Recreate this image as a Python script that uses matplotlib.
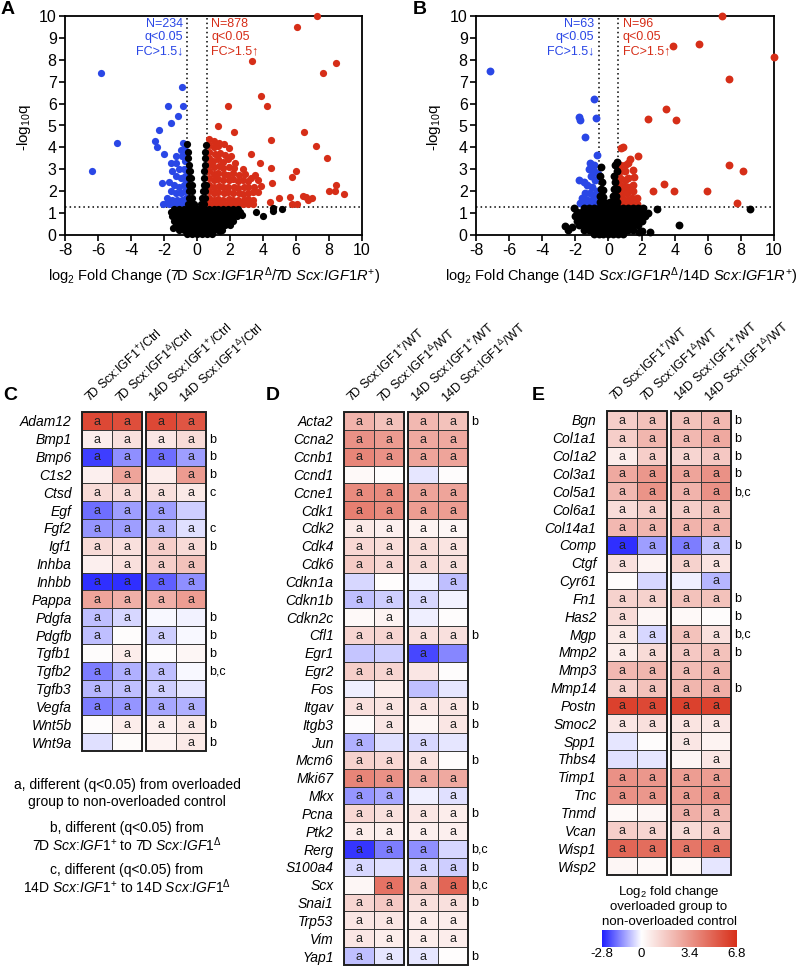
import numpy as np
import matplotlib
matplotlib.use("Agg")
import matplotlib.pyplot as plt
from matplotlib.colors import LinearSegmentedColormap
from matplotlib.patches import Rectangle

plt.rcParams['font.family'] = ['Liberation Sans', 'DejaVu Sans']
plt.rcParams['mathtext.fontset'] = 'custom'
plt.rcParams['mathtext.rm'] = 'Liberation Sans'
plt.rcParams['mathtext.it'] = 'Liberation Sans:italic'
plt.rcParams['mathtext.bf'] = 'Liberation Sans:bold'
plt.rcParams['axes.unicode_minus'] = False

# ---- volcano data (log2 FC, -log10 q) ----
a_blue = [(-5.84, 7.38), (-6.38, 2.94), (-4.83, 4.19), (-0.93, 6.77), (-0.83, 5.89),
          (-1.74, 5.89), (-1.13, 5.43), (-1.58, 5.1), (-2.3, 4.79), (-2.53, 4.29),
          (-2.44, 4.03), (-2.0, 3.7), (-2.1, 2.36), (-2.08, 1.42), (-1.84, 1.45),
          (-0.85, 4.2), (-0.75, 4.1), (-0.7, 3.9), (-1.6, 3.3), (-1.25, 3.6), (-1.3, 3.3),
          (-1.0, 3.9), (-0.9, 3.6), (-0.75, 3.4), (-1.1, 3.0), (-0.8, 3.0), (-1.5, 2.9),
          (-1.3, 2.7), (-1.0, 2.6), (-0.7, 2.7), (-1.7, 2.4), (-1.4, 2.3), (-1.1, 2.2),
          (-0.8, 2.3), (-1.6, 2.0), (-1.3, 1.9), (-1.0, 1.9), (-0.7, 2.0), (-1.8, 1.7),
          (-1.5, 1.6), (-1.2, 1.6), (-0.9, 1.6), (-0.65, 1.7), (-1.7, 1.4), (-1.4, 1.4),
          (-1.1, 1.4), (-0.8, 1.4), (-0.65, 2.4), (-0.65, 3.0), (-0.65, 3.6)]

a_red = [(7.25, 10.0), (6.04, 9.51), (3.35, 7.95), (8.4, 7.87), (7.62, 7.41), (3.88, 6.36),
         (4.22, 5.89), (1.9, 5.89), (1.29, 4.98), (2.24, 4.72), (6.48, 4.72), (4.48, 4.34),
         (7.21, 4.08), (3.27, 3.68), (3.84, 3.27), (4.46, 3.04), (7.86, 3.5), (6.0, 2.94),
         (5.74, 2.66), (4.53, 2.36), (8.4, 2.28), (8.02, 2.0), (8.36, 2.0), (8.91, 1.86),
         (6.45, 1.8), (6.6, 1.75), (6.75, 1.6), (6.95, 1.7), (5.64, 1.75), (4.99, 1.67),
         (4.42, 1.52), (5.74, 1.42), (6.04, 1.42), (3.41, 1.42),
         (0.7, 4.4), (1.05, 4.3), (1.35, 4.2),
         (0.7, 4.1), (1.0, 4.0), (1.3, 4.05), (1.65, 4.15), (1.95, 3.95),
         (0.75, 3.8), (1.1, 3.7), (1.4, 3.75), (1.7, 3.65), (2.05, 3.6),
         (0.7, 3.5), (0.95, 3.4), (1.3, 3.45), (1.6, 3.35), (1.9, 3.45), (2.3, 3.3),
         (0.75, 3.2), (1.05, 3.1), (1.35, 3.15), (1.6, 3.05), (1.95, 3.1), (2.25, 3.05), (2.8, 3.0),
         (0.7, 2.9), (1.0, 2.8), (1.3, 2.85), (1.65, 2.8), (1.9, 2.75), (2.2, 2.85), (2.55, 2.75),
         (2.9, 2.8), (3.5, 2.75), (3.3, 2.6),
         (0.75, 2.6), (1.05, 2.5), (1.3, 2.55), (1.6, 2.5), (1.95, 2.5), (2.2, 2.55), (2.5, 2.45),
         (2.8, 2.5), (3.1, 2.45), (3.7, 2.5),
         (0.7, 2.3), (1.0, 2.2), (1.35, 2.25), (1.6, 2.2), (1.9, 2.2), (2.25, 2.2), (2.5, 2.15),
         (2.85, 2.2), (3.1, 2.2), (3.45, 2.2), (3.9, 2.25),
         (0.75, 2.0), (1.0, 1.9), (1.3, 1.95), (1.65, 1.9), (1.9, 1.95), (2.2, 1.9), (2.55, 1.9),
         (2.8, 1.85), (3.1, 1.9), (3.4, 1.95), (3.7, 1.95),
         (0.7, 1.7), (1.05, 1.6), (1.3, 1.65), (1.6, 1.6), (1.95, 1.65), (2.2, 1.6), (2.5, 1.6),
         (2.85, 1.6), (3.1, 1.65), (3.4, 1.6),
         (0.7, 1.4), (1.0, 1.4), (1.3, 1.4), (1.6, 1.4), (1.9, 1.4), (2.2, 1.4), (2.5, 1.4),
         (2.8, 1.4), (3.1, 1.4)]

a_black = [(-0.6, 0.05), (-0.3, 0.05), (0.0, 0.05), (0.3, 0.05), (0.6, 0.05), (0.9, 0.05),
           (-1.1, 0.25), (-0.8, 0.25), (-0.5, 0.25), (-0.2, 0.25), (0.1, 0.25), (0.4, 0.25),
           (0.7, 0.25), (1.0, 0.25), (1.3, 0.25), (1.5, 0.25),
           (-1.3, 0.45), (-1.0, 0.45), (-0.7, 0.45), (-0.4, 0.45), (-0.1, 0.45), (0.2, 0.45),
           (0.5, 0.45), (0.8, 0.45), (1.1, 0.45), (1.4, 0.45), (1.7, 0.45), (2.0, 0.45),
           (-1.4, 0.65), (-1.1, 0.65), (-0.8, 0.65), (-0.5, 0.65), (-0.2, 0.65), (0.1, 0.65),
           (0.4, 0.65), (0.7, 0.65), (1.0, 0.65), (1.3, 0.65), (1.6, 0.65), (1.9, 0.65), (2.2, 0.65),
           (-1.5, 0.85), (-1.2, 0.85), (-0.9, 0.85), (-0.6, 0.85), (-0.3, 0.85), (0.0, 0.85),
           (0.3, 0.85), (0.6, 0.85), (0.9, 0.85), (1.2, 0.85), (1.5, 0.85), (1.8, 0.85),
           (2.1, 0.85), (2.4, 0.85), (2.7, 0.9),
           (-1.6, 1.05), (-1.3, 1.05), (-1.0, 1.05), (-0.7, 1.05), (-0.4, 1.05), (-0.1, 1.05),
           (0.2, 1.05), (0.5, 1.05), (0.8, 1.05), (1.1, 1.05), (1.4, 1.05), (1.7, 1.05),
           (2.0, 1.05), (2.3, 1.05), (2.6, 1.05),
           (-1.4, 1.2), (-1.1, 1.2), (-0.8, 1.2), (-0.5, 1.2), (-0.2, 1.2), (0.1, 1.2), (0.4, 1.2),
           (0.7, 1.2), (1.0, 1.2), (1.3, 1.2), (1.6, 1.2), (1.9, 1.2), (2.2, 1.2), (2.5, 1.2),
           (-1.47, 0.3), (1.39, 0.2), (3.58, 1.03), (3.98, 0.87), (4.63, 1.25), (4.6, 1.1),
           (5.13, 1.17),
           (-0.55, 1.4), (-0.35, 1.4), (-0.2, 1.4), (-0.15, 1.3), (-0.5, 1.7), (-0.3, 1.7),
           (-0.5, 2.0), (-0.3, 2.0), (-0.5, 2.3), (-0.3, 2.3), (-0.5, 2.6), (-0.35, 2.6),
           (-0.5, 2.9), (-0.4, 2.9), (-0.5, 3.2), (-0.55, 3.5), (-0.55, 3.8), (-0.58, 4.15),
           (0.25, 1.4), (0.45, 1.4), (0.3, 1.7), (0.5, 1.7), (0.35, 2.0), (0.5, 2.0),
           (0.4, 2.3), (0.55, 2.3), (0.45, 2.6), (0.45, 2.9), (0.5, 3.2), (0.5, 3.5),
           (0.5, 3.8), (0.52, 4.1)]

b_blue = [(-7.15, 7.5), (-0.85, 6.21), (-1.76, 5.4), (-1.72, 5.25), (-0.75, 5.36),
          (-1.42, 4.46), (-0.71, 3.65), (-1.78, 2.51), (-1.46, 2.4),
          (-1.1, 3.3), (-0.9, 3.2), (-1.2, 3.0), (-0.85, 2.9), (-1.05, 2.7), (-0.8, 2.5),
          (-1.3, 2.3), (-1.0, 2.2), (-0.7, 2.0), (-1.4, 1.9), (-1.1, 1.9), (-0.9, 1.8),
          (-1.6, 1.7), (-1.3, 1.6), (-1.0, 1.6), (-0.7, 1.6), (-1.5, 1.4), (-1.2, 1.4),
          (-0.9, 1.4), (-0.65, 1.4), (-1.7, 1.45), (-0.65, 2.8)]

b_red = [(6.84, 10.0), (3.88, 8.63), (5.49, 8.72), (10.0, 8.13), (7.28, 7.11), (3.48, 5.75),
         (2.41, 5.28), (4.1, 5.26), (7.3, 3.2), (8.1, 2.92), (3.36, 2.31), (2.71, 2.02),
         (3.96, 2.02), (5.93, 2.0), (7.76, 1.48), (1.78, 3.62), (0.86, 4.03), (0.74, 3.96),
         (1.32, 3.45), (1.5, 2.98), (1.56, 2.66),
         (0.7, 3.2), (1.0, 3.2), (1.2, 3.3), (0.7, 2.9), (1.0, 2.9), (0.7, 2.6), (1.0, 2.5),
         (1.2, 2.6), (0.7, 2.3), (0.95, 2.2), (1.2, 2.2), (0.7, 2.0), (0.9, 1.9), (1.15, 1.9),
         (1.5, 2.0), (0.7, 1.7), (0.95, 1.6), (1.2, 1.6), (1.45, 1.7), (1.7, 1.7), (0.7, 1.4),
         (0.95, 1.4), (1.2, 1.4), (1.45, 1.4), (1.75, 1.4), (1.5, 2.3)]

b_black = [(-0.9, 0.05), (-0.6, 0.05), (-0.3, 0.05), (0.0, 0.05), (0.3, 0.05), (0.6, 0.05),
           (0.9, 0.05),
           (-1.5, 0.25), (-1.2, 0.25), (-0.9, 0.25), (-0.6, 0.25), (-0.3, 0.25), (0.0, 0.25),
           (0.3, 0.25), (0.6, 0.25), (0.9, 0.25), (1.2, 0.25), (1.5, 0.25),
           (-1.8, 0.45), (-1.5, 0.45), (-1.2, 0.45), (-0.9, 0.45), (-0.6, 0.45), (-0.3, 0.45),
           (0.0, 0.45), (0.3, 0.45), (0.6, 0.45), (0.9, 0.45), (1.2, 0.45), (1.5, 0.45), (1.8, 0.45),
           (-1.9, 0.65), (-1.6, 0.65), (-1.3, 0.65), (-1.0, 0.65), (-0.7, 0.65), (-0.4, 0.65),
           (-0.1, 0.65), (0.2, 0.65), (0.5, 0.65), (0.8, 0.65), (1.1, 0.65), (1.4, 0.65),
           (1.7, 0.65), (2.0, 0.65),
           (-2.0, 0.85), (-1.7, 0.85), (-1.4, 0.85), (-1.1, 0.85), (-0.8, 0.85), (-0.5, 0.85),
           (-0.2, 0.85), (0.1, 0.85), (0.4, 0.85), (0.7, 0.85), (1.0, 0.85), (1.3, 0.85),
           (1.6, 0.85), (1.9, 0.85), (2.2, 0.85),
           (-1.9, 1.05), (-1.6, 1.05), (-1.3, 1.05), (-1.0, 1.05), (-0.7, 1.05), (-0.4, 1.05),
           (-0.1, 1.05), (0.2, 1.05), (0.5, 1.05), (0.8, 1.05), (1.1, 1.05), (1.4, 1.05),
           (1.7, 1.05), (2.0, 1.05),
           (-2.1, 1.22), (-1.5, 1.22), (-1.2, 1.22), (-0.9, 1.22), (-0.6, 1.22), (-0.3, 1.22),
           (0.0, 1.22), (0.3, 1.22), (0.6, 1.22), (0.9, 1.22), (1.2, 1.22), (1.5, 1.22),
           (1.8, 1.22), (2.1, 1.22),
           (8.55, 1.17), (4.28, 0.46), (2.95, 1.19), (2.51, 0.15), (1.85, 0.15), (2.0, 0.2),
           (-2.6, 0.4), (-2.45, 0.25), (-2.2, 0.35), (2.4, 1.0),
           (-0.5, 1.5), (-0.3, 1.5), (-0.1, 1.45), (-0.5, 1.8), (-0.3, 1.75), (-0.45, 2.1),
           (-0.3, 2.05), (-0.4, 2.4), (-0.5, 2.7), (-0.47, 3.12),
           (0.1, 1.5), (0.3, 1.5), (0.5, 1.5), (0.25, 1.8), (0.45, 1.8), (0.35, 2.1), (0.5, 2.1),
           (0.4, 2.4), (0.35, 2.7), (0.5, 2.9), (0.39, 3.2), (0.54, 3.35)]

# ---- heatmap data: log2 FC [7D+, 7D delta, 14D+, 14D delta] ----
c_genes = ['Adam12', 'Bmp1', 'Bmp6', 'C1s2', 'Ctsd', 'Egf', 'Fgf2', 'Igf1', 'Inhba', 'Inhbb',
           'Pappa', 'Pdgfa', 'Pdgfb', 'Tgfb1', 'Tgfb2', 'Tgfb3', 'Vegfa', 'Wnt5b', 'Wnt9a']
c_fc = [[6.0, 5.8, 6.0, 5.6], [0.6, 1.0, 0.8, 1.2], [-2.4, -1.4, -1.8, -1.2], [0.5, 3.0, 0.6, 3.3],
        [1.2, 1.2, 1.0, 0.7], [-1.8, -1.2, -1.2, -0.6], [-1.3, -1.2, -0.9, -0.4], [1.2, 1.0, 1.6, 1.2],
        [0.5, 1.0, 1.6, 2.0], [-2.6, -2.6, -2.0, -1.4], [3.0, 2.6, 2.6, 3.2], [-0.8, -0.5, -0.1, -0.15],
        [-0.8, 0.1, -0.6, -0.1], [0.1, 0.6, 0.1, 0.3], [-1.6, -1.0, -0.8, -0.1], [-0.9, -0.8, -0.6, -0.3],
        [-1.6, -1.3, -1.1, -1.0], [0.1, 0.6, 0.5, 0.7], [-0.4, 0.15, 0.4, 0.7]]
c_marks = ['aaaa', 'aaaa', 'aaaa', '_a_a', 'aaaa', 'aaa_', 'aaaa', 'aaaa', '_aaa', 'aaaa',
           'aaaa', 'aa__', 'a_a_', '_a__', 'aaa_', 'aaa_', 'aaaa', '_aaa', '___a']
c_sig = ['', 'b', 'b', 'b', 'c', '', 'c', 'b', '', '', '', 'b', 'b', 'b', 'b,c', '', '', 'b', 'b']

d_genes = ['Acta2', 'Ccna2', 'Ccnb1', 'Ccnd1', 'Ccne1', 'Cdk1', 'Cdk2', 'Cdk4', 'Cdk6', 'Cdkn1a',
           'Cdkn1b', 'Cdkn2c', 'Cfl1', 'Egr1', 'Egr2', 'Fos', 'Itgav', 'Itgb3', 'Jun', 'Mcm6',
           'Mki67', 'Mkx', 'Pcna', 'Ptk2', 'Rerg', 'S100a4', 'Scx', 'Snai1', 'Trp53', 'Vim', 'Yap1']
d_fc = [[2.5, 2.0, 2.3, 2.0], [3.6, 3.3, 2.8, 2.8], [4.0, 3.6, 3.0, 3.0], [0.2, 0.1, -0.3, 0.1],
        [3.8, 3.8, 3.0, 3.0], [4.2, 3.8, 3.2, 3.2], [0.7, 0.5, 0.4, 0.3], [1.3, 1.1, 1.1, 0.9],
        [1.7, 1.3, 1.2, 1.0], [-0.5, 0.05, -0.15, -0.8], [-0.8, -0.6, -0.5, -0.15], [0.2, 0.4, -0.2, 0.1],
        [1.4, 1.4, 1.0, 1.0], [-0.7, -0.6, -2.3, -1.5], [1.6, 1.4, 0.8, 0.1], [-0.2, 0.6, -0.8, -0.3],
        [1.0, 0.9, 0.8, 0.8], [0.1, 0.8, 0.3, 0.8], [-1.0, -0.4, -0.5, -0.3], [1.5, 1.3, 0.9, 0.1],
        [4.0, 3.6, 2.8, 2.8], [-1.3, -1.1, -0.2, -0.4], [1.3, 1.0, 0.8, 0.6], [0.6, 0.5, 0.5, 0.5],
        [-2.5, -1.6, -1.4, -0.5], [-0.5, -0.4, -0.5, -0.6], [0.3, 4.6, 2.0, 5.0], [1.4, 1.8, 1.0, 1.0],
        [0.8, 0.8, 0.6, 0.6], [0.8, 0.6, 0.6, 0.6], [-0.8, -0.3, -0.3, 0.05]]
d_marks = ['aaaa', 'aaaa', 'aaaa', '____', 'aaaa', 'aaaa', 'aaaa', 'aaaa', 'aaaa', '___a',
           'aaa_', '_a__', 'aaaa', '__a_', 'aa__', '____', 'aaaa', '_a_a', 'a_a_', 'aaa_',
           'aaaa', 'aa_a', 'aaaa', 'aaaa', 'aaa_', 'a_aa', '_aaa', 'aaaa', 'aaaa', 'aaaa', 'aaa_']
d_sig = ['b', '', '', '', '', '', '', '', '', '', '', '', 'b', '', '', '', 'b', 'b', '', 'b',
         '', '', 'b', '', 'b,c', 'b', 'b,c', 'b', '', '', 'b']

e_genes = ['Bgn', 'Col1a1', 'Col1a2', 'Col3a1', 'Col5a1', 'Col6a1', 'Col14a1', 'Comp', 'Ctgf',
           'Cyr61', 'Fn1', 'Has2', 'Mgp', 'Mmp2', 'Mmp3', 'Mmp14', 'Postn', 'Smoc2', 'Spp1',
           'Thbs4', 'Timp1', 'Tnc', 'Tnmd', 'Vcan', 'Wisp1', 'Wisp2']
e_fc = [[1.6, 2.0, 2.0, 2.3], [1.6, 2.4, 2.3, 2.8], [0.6, 1.6, 1.4, 1.8], [2.8, 3.4, 3.0, 3.6],
        [2.3, 3.5, 2.5, 3.6], [1.1, 1.6, 1.6, 2.0], [2.3, 2.4, 2.5, 2.5], [-2.6, -1.2, -1.6, -0.7],
        [1.0, 0.4, 1.5, 0.9], [0.1, -0.5, -0.2, -0.9], [1.5, 1.5, 2.0, 2.0], [1.2, 0.3, 0.2, 0.1],
        [0.7, -0.5, 2.0, 1.0], [0.6, 1.2, 1.8, 2.0], [2.3, 2.4, 2.2, 2.4], [1.5, 2.0, 2.4, 2.6],
        [6.2, 6.0, 6.2, 6.2], [0.8, 1.0, 0.9, 0.8], [-0.3, 0.1, 0.8, 0.4], [-0.4, -0.3, 0.3, 0.8],
        [3.6, 3.4, 3.2, 3.2], [3.6, 3.4, 3.2, 3.6], [0.2, 0.3, 2.6, 2.3], [1.6, 1.4, 1.2, 1.6],
        [5.0, 4.8, 4.5, 4.8], [0.3, 0.2, 0.2, -0.3]]
e_marks = ['aaaa', 'aaaa', 'aaaa', 'aaaa', 'aaaa', 'aaaa', 'aaaa', 'aaaa', 'a_aa', '___a',
           'aaaa', 'a___', 'aaaa', 'aaaa', 'aaaa', 'aaaa', 'aaaa', 'aaaa', '__a_', '___a',
           'aaaa', 'aaaa', '__aa', 'aaaa', 'aaaa', '____']
e_sig = ['b', 'b', 'b', 'b', 'b,c', '', '', 'b', '', '', 'b', 'b', 'b,c', 'b', '', 'b', '', '', '',
         '', '', '', '', '', '', '']

W, H = 800, 966
BLUE = '#2a47e6'
RED = '#d62e18'
cmap = LinearSegmentedColormap.from_list(
    'fc', [(0.0, '#2020ff'), (2.8 / 9.6, '#ffffff'), (1.0, '#d8301a')])

fig = plt.figure(figsize=(W / 100, H / 100), dpi=100)


def box(l, t, r, b):
    return [l / W, 1 - b / H, (r - l) / W, (b - t) / H]


def ftext(x, y, s, **kw):
    fig.text(x / W, 1 - y / H, s, **kw)


def volcano(rect, blue, red, black, n_dn, n_up, size):
    ax = fig.add_axes(rect)
    for pts, col in ((blue, BLUE), (red, RED), (black, 'black')):
        p = np.array(pts)
        ax.scatter(p[:, 0], p[:, 1], s=size, c=col, linewidths=0, clip_on=False, zorder=3)
    for xv in (-0.585, 0.585):
        ax.axvline(xv, ls=(0, (1, 2)), c='k', lw=1.1, zorder=1)
    ax.axhline(1.3, ls=(0, (1, 2)), c='k', lw=1.1, zorder=1)
    ax.set_xlim(-8, 10)
    ax.set_ylim(0, 10)
    ax.set_xticks(range(-8, 11, 2))
    ax.set_yticks(range(0, 11))
    ax.tick_params(labelsize=11.5, width=1.2, length=4, pad=2)
    for s in ax.spines.values():
        s.set_linewidth(1.3)
    ax.text(-0.85, 9.02, 'N=%d\nq<0.05\nFC>1.5\u2193' % n_dn, color=BLUE, ha='right', va='center',
            fontsize=9, linespacing=1.2)
    ax.text(0.85, 9.02, 'N=%d\nq<0.05\nFC>1.5\u2191' % n_up, color=RED, ha='left', va='center',
            fontsize=9, linespacing=1.2)
    return ax


volcano(box(65, 16, 362, 235), a_blue, a_red, a_black, 234, 878, 27)
volcano(box(476, 16, 774, 235), b_blue, b_red, b_black, 63, 96, 32)

for cx, lab in ((24, '-log$_{10}$q'), (434, '-log$_{10}$q')):
    ftext(cx, 127, lab, rotation=90, ha='center', va='center', fontsize=11)
ftext(214, 276, r'log$_2$ Fold Change (7D $\mathit{Scx}$:$\mathit{IGF1R}^{\Delta}$/7D '
                r'$\mathit{Scx}$:$\mathit{IGF1R}^{+}$)', ha='center', va='center', fontsize=10.5)
ftext(621, 276, r'log$_2$ Fold Change (14D $\mathit{Scx}$:$\mathit{IGF1R}^{\Delta}$/14D '
                r'$\mathit{Scx}$:$\mathit{IGF1R}^{+}$)', ha='center', va='center', fontsize=10.5)
ftext(8, 9, 'A', fontsize=14, fontweight='bold', ha='center', va='center')
ftext(420, 9, 'B', fontsize=14, fontweight='bold', ha='center', va='center')


def heatmap(rect, genes, vals, marks, sig, ctrl):
    ax = fig.add_axes(rect)
    n = len(genes)
    v = np.array(vals)
    gap = 0.133
    for g in range(2):
        x0 = g * (2 + gap)
        ax.pcolormesh(np.array([x0, x0 + 1, x0 + 2]), np.arange(n + 1), v[:, 2 * g:2 * g + 2],
                      cmap=cmap, vmin=-2.8, vmax=6.8, edgecolors='#3a3a3a', linewidth=0.7)
        ax.add_patch(Rectangle((x0, 0), 2, n, fill=False, lw=1.4, ec='#202020', clip_on=False))
    for i, m in enumerate(marks):
        for j, ch in enumerate(m):
            if ch == 'a':
                xc = j + 0.5 + (gap if j >= 2 else 0)
                ax.text(xc, i + 0.55, 'a', ha='center', va='center', fontsize=9, color='#222222')
        if sig[i]:
            ax.text(4 + gap + 0.12, i + 0.55, sig[i], ha='left', va='center', fontsize=9)
    heads = [r'7D Scx:IGF1$^{+}$/', r'7D Scx:IGF1$^{\Delta}$/',
             r'14D Scx:IGF1$^{+}$/', r'14D Scx:IGF1$^{\Delta}$/']
    for j, h in enumerate(heads):
        xc = j + 0.35 + (gap if j >= 2 else 0)
        ax.text(xc, -0.35, h + ctrl, rotation=43, rotation_mode='anchor', ha='left',
                va='bottom', fontsize=9)
    ax.set_xlim(0, 4 + gap)
    ax.set_ylim(n, 0)
    ax.set_xticks([])
    ax.set_yticks(np.arange(n) + 0.5)
    ax.set_yticklabels(genes, fontstyle='italic', fontsize=10)
    ax.tick_params(axis='y', length=0, pad=7.5)
    for s in ax.spines.values():
        s.set_visible(False)
    return ax


heatmap(box(82, 412, 206, 751), c_genes, c_fc, c_marks, c_sig, 'Ctrl')
heatmap(box(344, 412, 468, 965), d_genes, d_fc, d_marks, d_sig, 'WT')
heatmap(box(607, 411, 731, 875), e_genes, e_fc, e_marks, e_sig, 'WT')

ftext(10, 396, 'C', fontsize=14, fontweight='bold', ha='center', va='center')
ftext(273, 396, 'D', fontsize=14, fontweight='bold', ha='center', va='center')
ftext(538, 396, 'E', fontsize=14, fontweight='bold', ha='center', va='center')

legend_lines = [(785, 'a, different (q<0.05) from overloaded'),
                (802, 'group to non-overloaded control'),
                (828, 'b, different (q<0.05) from'),
                (845, r'7D $\mathit{Scx}$:$\mathit{IGF1}^{+}$ to 7D $\mathit{Scx}$:$\mathit{IGF1}^{\Delta}$'),
                (870, 'c, different (q<0.05) from'),
                (887, r'14D $\mathit{Scx}$:$\mathit{IGF1}^{+}$ to 14D $\mathit{Scx}$:$\mathit{IGF1}^{\Delta}$')]
for y, s in legend_lines:
    ftext(127, y, s, ha='center', va='center', fontsize=10)

# colour scale
cb = fig.add_axes(box(602, 930, 737, 947))
cb.imshow(np.linspace(-2.8, 6.8, 256)[None, :], aspect='auto', cmap=cmap, vmin=-2.8, vmax=6.8,
          extent=[-2.8, 6.8, 0, 1])
cb.set_xticks([-2.8, 0, 3.4, 6.8])
cb.set_xticklabels(['-2.8', '0', '3.4', '6.8'])
cb.set_yticks([])
cb.tick_params(axis='x', length=0, pad=1, labelsize=9.5)
for s in cb.spines.values():
    s.set_visible(False)
for y, s in ((892, 'Log$_2$ fold change'), (907, 'overloaded group to'),
             (922, 'non-overloaded control')):
    ftext(669, y, s, ha='center', va='center', fontsize=9.5)

fig.savefig('out.png', dpi=100)
